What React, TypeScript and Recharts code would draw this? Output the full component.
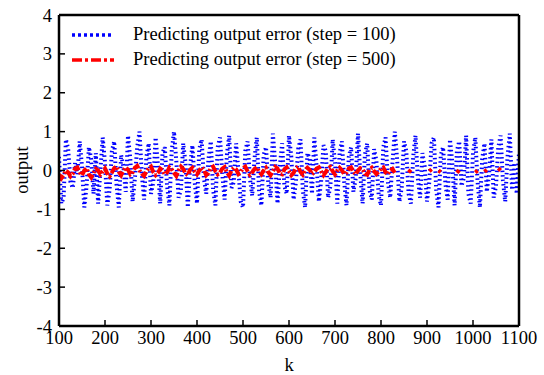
import React from 'react'
import { LineChart, Line, XAxis, YAxis, Legend } from 'recharts'

const K_START = 100
const K_STEP = 5

// step = 100 prediction error, one value per 5 samples (k = 100 ... 1100)
const errStep100 = [
  0.35, -0.85, -0.7, 0.8, 0.55, -0.3, -0.45, 0.2, -0.1, 0.75,
  0.1, -0.95, -0.4, 0.6, 0.3, -0.6, 0.45, -0.85, 0.0, 0.85,
  0.2, -0.9, -0.5, 0.5, 0.75, -0.35, -0.95, 0.4, 0.1, -0.55,
  0.9, 0.3, -0.8, -0.2, 0.6, 1.0, -0.1, -0.75, 0.35, 0.7,
  -0.6, -0.3, 0.85, 0.15, -0.85, 0.45, 0.6, -0.4, -0.9, 0.5,
  1.0, 0.25, -0.7, -0.5, 0.7, 0.2, -0.95, 0.1, 0.65, -0.3,
  -0.85, 0.55, 0.8, -0.2, -0.6, 0.3, 0.75, -0.5, -0.9, 0.6,
  0.85, -0.1, -0.75, 0.4, 0.9, -0.45, -0.3, 0.7, 0.0, -0.8,
  -0.95, 0.5, 0.75, -0.2, -0.65, 0.3, 0.85, -0.55, -0.9, 0.4,
  0.6, -0.35, -0.7, 0.95, 0.2, -0.85, 0.1, 0.7, -0.4, -0.6,
  0.9, 0.35, -0.75, -0.3, 0.55, 0.8, -0.5, -0.95, 0.45, 0.3,
  -0.6, 0.85, 0.1, -0.8, -0.25, 0.65, 0.5, -0.7, -0.4, 0.8,
  0.2, -0.85, 0.45, 0.75, -0.3, -0.9, 0.35, 0.6, -0.55, -0.2,
  0.95, -0.1, -0.85, 0.4, 0.7, -0.5, -0.75, 0.55, 0.25, -0.65,
  -0.9, 0.6, 0.85, -0.3, -0.7, 0.2, 1.0, 0.3, -0.8, -0.45,
  0.75, 0.5, -0.6, -0.85, 0.35, 0.9, -0.2, -0.7, 0.45, 0.1,
  -0.8, -0.3, 0.7, 0.85, -0.5, -0.95, 0.4, 0.6, -0.35, -0.75,
  0.8, 0.2, -0.9, 0.5, 0.75, -0.4, -0.2, 0.9, -0.6, -0.85,
  0.45, 0.85, -0.3, -0.95, 0.3, 0.7, -0.55, -0.1, 0.8, -0.7,
  -0.4, 0.6, 0.9, -0.25, -0.8, 0.35, 0.95, -0.5, 0.2, -0.6,
  0.45,
]

// step = 500 prediction error (mostly hidden after k ~ 830)
const errStep500 = [
  -0.1, -0.2, -0.12, 0.0, -0.05, -0.15, -0.08, 0.05, 0.08, -0.05,
  -0.12, 0.0, 0.06, -0.1, -0.18, -0.06, 0.04, 0.0, -0.1, -0.02,
  0.05, -0.08, -0.15, -0.05, 0.06, 0.1, -0.03, -0.12, 0.0, 0.08,
  0.02, -0.1, -0.05, 0.07, 0.12, 0.0, -0.08, -0.14, -0.02, 0.06,
  0.1, -0.04, -0.12, -0.06, 0.05, 0.0, -0.1, -0.05, 0.08, 0.03,
  -0.06, -0.14, 0.0, 0.1, 0.04, -0.08, -0.12, 0.02, 0.07, -0.03,
  -0.1, 0.0, 0.08, 0.02, -0.12, -0.06, 0.06, 0.1, -0.02, -0.1,
  -0.05, 0.05, 0.09, -0.04, -0.13, 0.0, 0.07, 0.03, -0.09, -0.04,
  0.06, 0.1, -0.02, -0.11, -0.05, 0.04, 0.08, -0.03, -0.1, 0.0,
  0.07, -0.04, -0.12, -0.02, 0.09, 0.05, -0.08, -0.1, 0.03, 0.08,
  -0.02, -0.12, -0.06, 0.06, 0.1, -0.04, -0.11, 0.0, 0.07, 0.02,
  -0.09, -0.05, 0.05, 0.08, -0.03, -0.12, -0.04, 0.06, 0.09, -0.02,
  -0.1, 0.0, 0.07, 0.01, -0.09, -0.06, 0.05, 0.08, -0.04, -0.1,
  0.0, 0.06, 0.03, -0.08, -0.11, 0.02, 0.07, -0.02, -0.09, -0.03,
  0.05, 0.08, -0.05, -0.1, 0.0, 0.04, -0.06, null, null, null,
  null, null, -0.05, 0.02, null, null, null, null, null, null,
  null, -0.02, 0.03, null, null, 0.0, -0.04, null, null, null,
  null, null, null, -0.06, 0.01, null, null, null, null, null,
  null, -0.05, 0.0, null, null, -0.03, 0.02, null, null, null,
  null, 0.06, 0.0, null, null, null, null, null, null, null,
  null,
]

const xTicks = [100, 200, 300, 400, 500, 600, 700, 800, 900, 1000, 1100]
const yTicks = [-4, -3, -2, -1, 0, 1, 2, 3, 4]

const seriesNames = [
  'Predicting output error (step = 100)',
  'Predicting output error (step = 500)',
]

const FONT = 'Liberation Serif, DejaVu Serif, serif'
const BLUE = '#0000ff'
const RED = '#ff0000'

const data = errStep100.map((v, i) => ({
  k: K_START + i * K_STEP,
  e100: v,
  e500: errStep500[i],
}))

const tickStyle = { fontFamily: FONT, fontSize: 18.5, fill: '#000' }
const frame = { stroke: '#000', strokeWidth: 2.5 }
const tickMark = { stroke: '#000', strokeWidth: 1.5 }

function LegendBox() {
  const rows = [
    { name: seriesNames[0], color: BLUE, dash: '3 3' },
    { name: seriesNames[1], color: RED, dash: '10 3 3 3' },
  ]
  return (
    <div style={{ fontFamily: FONT, fontSize: 18.5, color: '#000', lineHeight: '25px' }}>
      {rows.map((r) => (
        <div key={r.name} style={{ display: 'flex', alignItems: 'center', height: 25 }}>
          <svg width={61} height={10}>
            <line x1={0} y1={5} x2={42} y2={5} stroke={r.color} strokeWidth={3.5} strokeDasharray={r.dash} />
          </svg>
          <span style={{ whiteSpace: 'nowrap' }}>{r.name}</span>
        </div>
      ))}
    </div>
  )
}

export default function App() {
  return (
    <div style={{ position: 'absolute', left: 0, top: 0, width: 544, height: 375, background: '#fff' }}>
      <LineChart width={544} height={375} data={data} margin={{ top: 14, right: 24, left: 0, bottom: 0 }}>
        <XAxis
          dataKey="k"
          type="number"
          domain={[100, 1100]}
          ticks={xTicks}
          allowDataOverflow
          height={49}
          tickSize={-6}
          tickMargin={11}
          tick={tickStyle}
          axisLine={frame}
          tickLine={tickMark}
          label={{ value: 'k', position: 'insideBottom', offset: 4, style: { fontFamily: FONT, fontSize: 18.5, fill: '#000' } }}
        />
        <XAxis
          xAxisId="top"
          orientation="top"
          dataKey="k"
          type="number"
          domain={[100, 1100]}
          ticks={xTicks}
          height={1}
          tickSize={-6}
          tick={false}
          axisLine={frame}
          tickLine={tickMark}
        />
        <YAxis
          type="number"
          domain={[-4, 4]}
          ticks={yTicks}
          width={59}
          tickSize={-6}
          tickMargin={13}
          tick={tickStyle}
          axisLine={frame}
          tickLine={tickMark}
          label={{
            content: () => (
              <text
                x={22}
                y={170}
                transform="rotate(-90 22 170)"
                textAnchor="middle"
                dominantBaseline="central"
                style={{ fontFamily: FONT, fontSize: 18.5, fill: '#000' }}
              >
                output
              </text>
            ),
          }}
        />
        <YAxis
          yAxisId="right"
          orientation="right"
          type="number"
          domain={[-4, 4]}
          ticks={yTicks}
          width={1}
          tickSize={-6}
          tick={false}
          axisLine={frame}
          tickLine={tickMark}
        />
        <Legend
          layout="horizontal"
          verticalAlign="middle"
          align="center"
          wrapperStyle={{ left: 72, top: 22, width: 'auto' }}
          content={() => <LegendBox />}
        />
        <Line
          dataKey="e100"
          name={seriesNames[0]}
          stroke={BLUE}
          strokeWidth={4}
          strokeDasharray="1.5 3"
          dot={false}
          isAnimationActive={false}
        />
        <Line
          dataKey="e500"
          name={seriesNames[1]}
          stroke={RED}
          strokeWidth={4}
          strokeDasharray="8 2 2 2"
          dot={false}
          connectNulls={false}
          isAnimationActive={false}
        />
      </LineChart>
    </div>
  )
}
